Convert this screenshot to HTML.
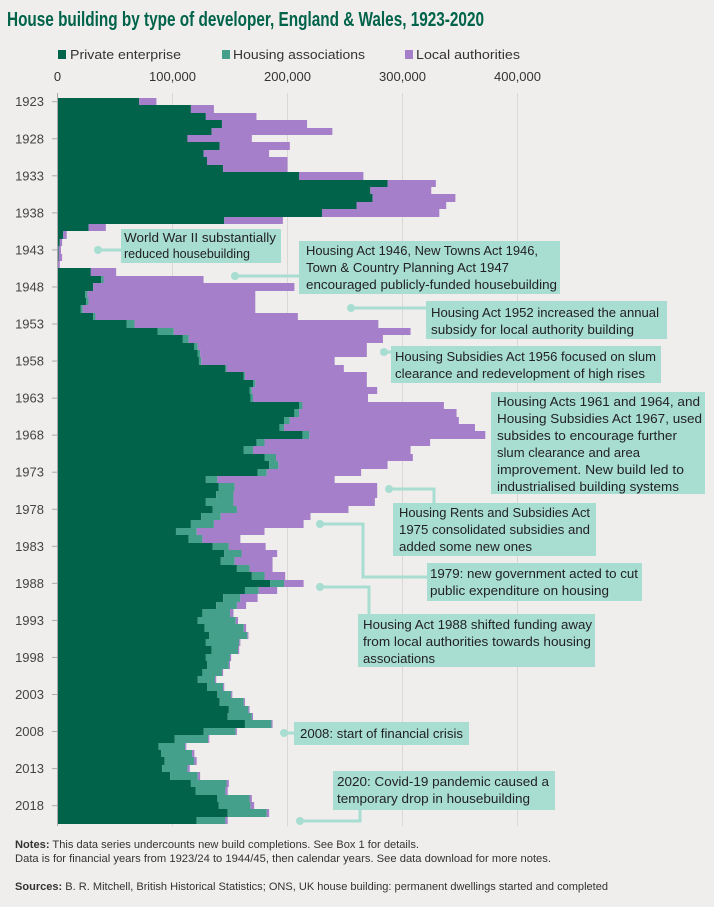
<!DOCTYPE html>
<html><head><meta charset="utf-8"><style>
html,body{margin:0;padding:0;background:#efeeec;}
svg{display:block;font-family:"Liberation Sans",sans-serif;}
</style></head><body>
<svg id="chart" width="714" height="907" viewBox="0 0 714 907" xmlns="http://www.w3.org/2000/svg">
<rect x="0" y="0" width="714" height="907" fill="#efeeec"/>
<text x="7" y="26" font-size="20" font-weight="bold" fill="#00634a" textLength="477" lengthAdjust="spacingAndGlyphs">House building by type of developer, England &amp; Wales, 1923-2020</text>
<g font-size="13" fill="#333">
<g><rect x="58" y="50" width="8" height="9" fill="#00634a"/><text x="70" y="59" textLength="111" lengthAdjust="spacingAndGlyphs">Private enterprise</text></g>
<g><rect x="222" y="50" width="8" height="9" fill="#44a08a"/><text x="233" y="59" textLength="132" lengthAdjust="spacingAndGlyphs">Housing associations</text></g>
<g><rect x="405" y="50" width="8" height="9" fill="#a57fc9"/><text x="416" y="59" textLength="104" lengthAdjust="spacingAndGlyphs">Local authorities</text></g>
</g>
<g id="grid"></g>
<g id="xticks" font-size="13" fill="#333" text-anchor="middle"></g>
<g id="bars"></g>
<g id="yticks" font-size="13" fill="#444" text-anchor="end"></g>
<line x1="57.5" y1="96" x2="57.5" y2="825" stroke="#aaa" stroke-width="1"/>

<g font-size="13" fill="#222">
<g>
<line x1="98" y1="250" x2="121" y2="250" stroke="#a8ddd2" stroke-width="3"/><circle cx="98" cy="250" r="4" fill="#a8ddd2"/>
<rect x="121" y="229" width="160" height="34" fill="#a8ddd2"/>
<text x="124" y="242" textLength="152" lengthAdjust="spacingAndGlyphs">World War II substantially</text>
<text x="124" y="258" textLength="126" lengthAdjust="spacingAndGlyphs">reduced housebuilding</text></g>
<g>
<line x1="235" y1="276" x2="299" y2="276" stroke="#a8ddd2" stroke-width="3"/><circle cx="235" cy="276" r="4" fill="#a8ddd2"/>
<rect x="299" y="241" width="261" height="53" fill="#a8ddd2"/>
<text x="306" y="255" textLength="232" lengthAdjust="spacingAndGlyphs">Housing Act 1946, New Towns Act 1946,</text>
<text x="306" y="272" textLength="203" lengthAdjust="spacingAndGlyphs">Town &amp; Country Planning Act 1947</text>
<text x="306" y="289" textLength="251" lengthAdjust="spacingAndGlyphs">encouraged publicly-funded housebuilding</text></g>
<g>
<line x1="351" y1="308" x2="426" y2="308" stroke="#a8ddd2" stroke-width="3"/><circle cx="351" cy="308" r="4" fill="#a8ddd2"/>
<rect x="426" y="301" width="241" height="38" fill="#a8ddd2"/>
<text x="431" y="317" textLength="228" lengthAdjust="spacingAndGlyphs">Housing Act 1952 increased the annual</text>
<text x="431" y="334" textLength="203" lengthAdjust="spacingAndGlyphs">subsidy for local authority building</text></g>
<g>
<line x1="384" y1="352" x2="391" y2="352" stroke="#a8ddd2" stroke-width="3"/><circle cx="384" cy="352" r="4" fill="#a8ddd2"/>
<rect x="391" y="346" width="270" height="37" fill="#a8ddd2"/>
<text x="395" y="361" textLength="261" lengthAdjust="spacingAndGlyphs">Housing Subsidies Act 1956 focused on slum</text>
<text x="395" y="378" textLength="250" lengthAdjust="spacingAndGlyphs">clearance and redevelopment of high rises</text></g>
<g>
<rect x="491" y="392" width="214" height="102" fill="#a8ddd2"/>
<text x="497" y="406" textLength="203" lengthAdjust="spacingAndGlyphs">Housing Acts 1961 and 1964, and</text>
<text x="497" y="423" textLength="205" lengthAdjust="spacingAndGlyphs">Housing Subsidies Act 1967, used</text>
<text x="497" y="440" textLength="180" lengthAdjust="spacingAndGlyphs">subsides to encourage further</text>
<text x="497" y="457" textLength="143" lengthAdjust="spacingAndGlyphs">slum clearance and area</text>
<text x="497" y="474" textLength="187" lengthAdjust="spacingAndGlyphs">improvement. New build led to</text>
<text x="497" y="491" textLength="182" lengthAdjust="spacingAndGlyphs">industrialised building systems</text></g>
<g>
<polyline points="389,489 434,489 434,503" fill="none" stroke="#a8ddd2" stroke-width="3"/><circle cx="389" cy="489" r="4" fill="#a8ddd2"/>
<rect x="393" y="503" width="203" height="53" fill="#a8ddd2"/>
<text x="399" y="517" textLength="191" lengthAdjust="spacingAndGlyphs">Housing Rents and Subsidies Act</text>
<text x="399" y="534" textLength="191" lengthAdjust="spacingAndGlyphs">1975 consolidated subsidies and</text>
<text x="399" y="551" textLength="133" lengthAdjust="spacingAndGlyphs">added some new ones</text></g>
<g>
<polyline points="320,524 363,524 363,577 427,577" fill="none" stroke="#a8ddd2" stroke-width="3"/><circle cx="320" cy="524" r="4" fill="#a8ddd2"/>
<rect x="427" y="563" width="215" height="38" fill="#a8ddd2"/>
<text x="430" y="578" textLength="208" lengthAdjust="spacingAndGlyphs">1979: new government acted to cut</text>
<text x="430" y="595" textLength="179" lengthAdjust="spacingAndGlyphs">public expenditure on housing</text></g>
<g>
<polyline points="320,587 369,587 369,614" fill="none" stroke="#a8ddd2" stroke-width="3"/><circle cx="320" cy="587" r="4" fill="#a8ddd2"/>
<rect x="358" y="614" width="237" height="53" fill="#a8ddd2"/>
<text x="363" y="629" textLength="229" lengthAdjust="spacingAndGlyphs">Housing Act 1988 shifted funding away</text>
<text x="363" y="646" textLength="228" lengthAdjust="spacingAndGlyphs">from local authorities towards housing</text>
<text x="363" y="663" textLength="72" lengthAdjust="spacingAndGlyphs">associations</text></g>
<g>
<line x1="284" y1="733" x2="294" y2="733" stroke="#a8ddd2" stroke-width="3"/><circle cx="284" cy="733" r="4" fill="#a8ddd2"/>
<rect x="294" y="722" width="175" height="23" fill="#a8ddd2"/>
<text x="300" y="738" textLength="163" lengthAdjust="spacingAndGlyphs">2008: start of financial crisis</text></g>
<g>
<polyline points="300,821 360,821 360,810" fill="none" stroke="#a8ddd2" stroke-width="3"/><circle cx="300" cy="821" r="4" fill="#a8ddd2"/>
<rect x="333" y="771" width="222" height="39" fill="#a8ddd2"/>
<text x="337" y="786" textLength="212" lengthAdjust="spacingAndGlyphs">2020: Covid-19 pandemic caused a</text>
<text x="337" y="803" textLength="193" lengthAdjust="spacingAndGlyphs">temporary drop in housebuilding</text></g>
</g>

<g font-size="11" fill="#333">
<text x="15" y="848" textLength="404" lengthAdjust="spacingAndGlyphs"><tspan font-weight="bold">Notes:</tspan> This data series undercounts new build completions. See Box 1 for details.</text>
<text x="15" y="862" textLength="536" lengthAdjust="spacingAndGlyphs">Data is for financial years from 1923/24 to 1944/45, then calendar years. See data download for more notes.</text>
<text x="15" y="890" textLength="593" lengthAdjust="spacingAndGlyphs"><tspan font-weight="bold">Sources:</tspan> B. R. Mitchell, British Historical Statistics; ONS, UK house building: permanent dwellings started and completed</text>
</g>
</svg>
<script>
const startYear = 1923;
// thousands of dwellings
const privateVals = [71,116,129,143,134,113,141,127,130,144,210,287,272,274,260,230,145,27,5,2,1,1,0,29,38,31,24,25,20,31,60,87,109,119,122,123,146,162,170,167,168,210,206,197,193,213,173,162,180,184,174,129,140,138,129,135,125,116,103,114,135,145,142,156,169,185,163,144,138,126,122,128,132,129,134,129,130,126,122,130,139,141,149,148,163,127,102,88,90,93,91,98,116,120,139,140,148,121];
const haVals = [0,0,0,0,0,0,0,0,0,0,0,0,0,0,0,0,0,0,0,0,0,0,0,0,2,0,2,2,2,2,7,14,5,3,2,2,1,1,2,2,2,3,4,5,4,6,7,8,10,8,8,10,14,15,24,21,17,20,18,12,14,15,12,11,11,12,12,15,18,24,33,34,33,29,23,21,19,17,15,14,12,21,17,21,23,28,29,23,27,26,22,24,31,26,28,28,34,25];
const laVals = [15,20,44,74,105,56,61,57,70,56,56,42,53,72,78,102,51,15,3,2,2,3,2,22,87,175,146,145,150,176,212,206,169,147,145,116,102,106,97,109,100,123,137,147,166,153,144,137,119,95,82,102,124,125,123,97,78,78,59,33,32,31,33,20,18,17,16,15,8,3,2,2,1,1,1,1,1,1,1,1,1,1,1,1,1,1,1,1,2,2,2,2,2,2,2,3,2,2];
const xTicks = [0,100000,200000,300000,400000];
const xTickLabels = ["0","100,000","200,000","300,000","400,000"];
const yLabelYears = [1923,1928,1933,1938,1943,1948,1953,1958,1963,1968,1973,1978,1983,1988,1993,1998,2003,2008,2013,2018];

const NS = "http://www.w3.org/2000/svg";
const x0 = 57.5, pxPer = 115/100000;
const y0 = 98, rowH = 7.41;
function xScale(v){ return x0 + v*pxPer; }
function yScale(year){ return y0 + (year-startYear)*rowH; }

const grid = document.getElementById('grid');
const xt = document.getElementById('xticks');
xTicks.forEach((t,i)=>{
  const l = document.createElementNS(NS,'line');
  l.setAttribute('x1',xScale(t)); l.setAttribute('x2',xScale(t));
  l.setAttribute('y1',93); l.setAttribute('y2',826);
  l.setAttribute('stroke', i===0 ? '#aaa' : '#d9d8d6'); l.setAttribute('stroke-width',1);
  
  
  grid.appendChild(l);
  const tx = document.createElementNS(NS,'text');
  tx.setAttribute('x',xScale(t)); tx.setAttribute('y',81);
  tx.textContent = xTickLabels[i];
  
  
  xt.appendChild(tx);
});

const bars = document.getElementById('bars');
function addRect(x1,x2,y,h,fill,name){
  if(x2-x1<=0) return;
  const r = document.createElementNS(NS,'rect');
  r.setAttribute('x',x1); r.setAttribute('width',x2-x1);
  r.setAttribute('y',y); r.setAttribute('height',h);
  r.setAttribute('fill',fill);
  
  
  bars.appendChild(r);
}
privateVals.forEach((p,i)=>{
  const yr = startYear+i;
  const yA = Math.round(yScale(yr)), yB = Math.round(yScale(yr+1));
  const h = yB - yA;
  const pv = p*1000, hv = haVals[i]*1000, lv = laVals[i]*1000;
  addRect(xScale(0), xScale(pv), yA, h, '#00634a', 'bar-private-'+yr);
  addRect(xScale(pv), xScale(pv+hv), yA, h, '#44a08a', 'bar-housing-associations-'+yr);
  addRect(xScale(pv+hv), xScale(pv+hv+lv), yA, h, '#a57fc9', 'bar-local-authorities-'+yr);
});

const yt = document.getElementById('yticks');
yLabelYears.forEach(yr=>{
  const cy = yScale(yr)+rowH/2;
  const tk = document.createElementNS(NS,'line');
  tk.setAttribute('x1',52); tk.setAttribute('x2',57.5);
  tk.setAttribute('y1',cy); tk.setAttribute('y2',cy);
  tk.setAttribute('stroke','#aaa');
  
  
  yt.appendChild(tk);
  const t = document.createElementNS(NS,'text');
  t.setAttribute('x',44); t.setAttribute('y',cy+4.5);
  t.textContent = yr;
  
  
  yt.appendChild(t);
});
</script>
</body></html>
